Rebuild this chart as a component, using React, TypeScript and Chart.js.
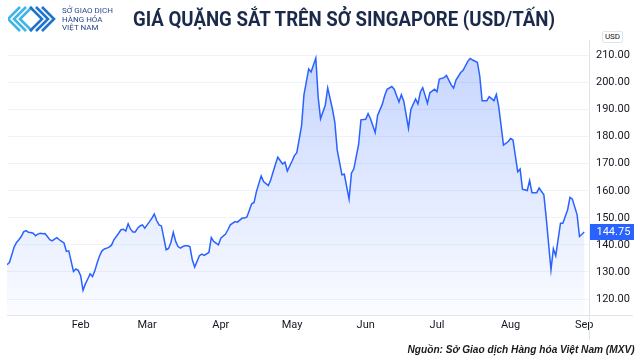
import React, { useEffect, useLayoutEffect, useRef } from "react";
import { Chart, registerables } from "chart.js";

Chart.register(...registerables);

// Day number since Jan 1 (calendar days)
const days = [
  0, 1, 2, 3, 4, 5, 6, 7, 8, 9, 10, 11, 12, 13, 14, 15, 16, 17, 18, 19, 20, 21, 22, 23, 24, 25, 26,
  28, 29, 30, 31, 32, 33, 34, 35, 36, 37, 38, 39, 40, 41, 42, 43, 44, 45, 47, 48, 49, 50, 51, 52,
  53, 54, 55, 56, 57, 58, 59, 60, 61, 62, 63, 64, 65, 67, 68, 69, 70, 71, 72, 73, 74, 75, 76, 77,
  78, 79, 81, 82, 83, 85, 86, 87, 89, 90, 92, 93, 94, 96, 97, 99, 100, 101, 103, 104, 105, 107,
  108, 110, 111, 113, 114, 116, 117, 118, 120, 121, 122, 124, 125, 127, 128, 130, 131, 132, 134,
  135, 137, 138, 139, 141, 142, 144, 145, 146, 148, 149, 151, 152, 153, 155, 156, 158, 159, 160,
  162, 163, 165, 166, 167, 169, 170, 172, 173, 174, 175, 177, 178, 180, 181, 182, 184, 185, 187,
  188, 189, 191, 192, 194, 195, 196, 198, 199, 200, 202, 203, 205, 206, 207, 209, 211, 212, 213,
  215, 216, 217, 219, 220, 221, 223, 224, 226, 227, 229, 230, 231, 233, 234, 236, 237, 238, 240,
  241, 243,
];

const prices = [
  132.7, 133.5, 136.3, 139.2, 140.9, 141.9, 143.1, 144.8, 145.3, 144.7, 144.6, 144.3, 143.4, 144.0,
  144.3, 144.1, 144.2, 143.1, 141.9, 141.5, 142.1, 142.7, 141.9, 141.3, 140.7, 137.6, 137.8,
  130.2, 131.1, 130.6, 128.6, 123.2, 125.6, 127.4, 129.3, 128.3, 130.5, 133.5, 136.0, 137.8, 138.5,
  138.8, 139.2, 139.9, 141.9, 144.3, 145.6, 145.8, 145.1, 147.8, 145.8,
  144.8, 144.8, 146.2, 147.0, 147.4, 146.2, 147.4, 148.6, 149.9, 151.4, 149.0, 147.4, 147.0, 138.2,
  138.7, 140.9, 144.6, 141.3, 139.4, 138.8, 139.4, 139.7, 139.7, 139.4,
  134.5, 131.8, 136.0, 136.6, 136.1, 137.2, 142.7, 141.3, 140.0, 142.5, 144.0, 145.6, 147.4, 148.6,
  148.4, 149.9, 149.9, 150.3, 155.2, 155.7, 159.7, 165.5,
  163.4, 161.9, 164.0, 169.8, 172.4, 169.9, 170.6, 167.3, 171.0, 173.0, 174.1, 184.0, 195.4, 205.0,
  203.9, 209.0, 194.5, 186.6, 191.7,
  198.0, 190.2, 185.3, 175.1, 165.9, 166.1, 156.9, 166.5, 168.1, 177.0, 186.2, 186.4, 188.5, 186.6,
  181.5, 187.8, 192.0, 195.2, 197.5,
  198.5, 197.5, 192.8, 195.5, 193.2, 183.1, 190.0, 193.9, 192.1, 196.4, 198.1, 192.3, 196.2, 197.5,
  196.6, 201.3, 201.8, 202.6, 199.1,
  197.9, 200.9, 203.7, 204.5, 207.9, 208.9, 208.3, 207.5, 202.5, 193.3, 193.3, 194.8, 193.3, 195.6,
  191.1, 176.9, 178.2, 179.3, 178.8,
  167.0, 168.0, 160.6, 160.1, 163.8, 159.3, 159.3, 161.0, 158.5, 149.9, 130.8, 138.6, 136.0, 148.0,
  148.0, 153.0, 157.6, 156.9, 151.1,
  143.1, 144.75,
];

const monthTickDays = [31, 59, 90, 120, 151, 181, 212, 243];
const monthTickLabels = ["Feb", "Mar", "Apr", "May", "Jun", "Jul", "Aug", "Sep"];
const priceTicks = [120, 130, 140, 150, 160, 170, 180, 190, 200, 210];
const lastPrice = 144.75;
const currencyLabel = "USD";
const titleText = "GIÁ QUẶNG SẮT TRÊN SỞ SINGAPORE (USD/TẤN)";
const sourceText = "Nguồn: Sở Giao dịch Hàng hóa Việt Nam (MXV)";
const logoLines = ["SỞ GIAO DỊCH", "HÀNG HÓA", "VIỆT NAM"];

const TICK_FONT = { family: "Roboto, 'Liberation Sans', sans-serif", size: 11 };
const TEXT_COLOR = "#131722";

function fitWidth(el: HTMLElement | null, target: number, origin: string) {
  if (!el) return;
  el.style.transform = "none";
  const w = el.getBoundingClientRect().width;
  if (w > 0) {
    el.style.transformOrigin = origin;
    el.style.transform = `scaleX(${target / w})`;
  }
}

export default function App() {
  const canvasRef = useRef<HTMLCanvasElement | null>(null);
  const titleRef = useRef<HTMLSpanElement | null>(null);
  const sourceRef = useRef<HTMLSpanElement | null>(null);

  useLayoutEffect(() => {
    const run = () => {
      fitWidth(titleRef.current, 422, "left center");
      fitWidth(sourceRef.current, 227, "right center");
    };
    run();
    if ((document as any).fonts && (document as any).fonts.ready) {
      (document as any).fonts.ready.then(run);
    }
  }, []);

  useEffect(() => {
    if (!canvasRef.current) return;

    const overlay = {
      id: "overlay",
      afterDraw(chart: any) {
        const { ctx, chartArea, scales } = chart;
        ctx.save();
        ctx.strokeStyle = "#e0e3eb";
        ctx.lineWidth = 1;
        ctx.beginPath();
        const rx = Math.round(chartArea.right) + 0.5;
        ctx.moveTo(rx, chartArea.top);
        ctx.lineTo(rx, 340);
        const by = Math.round(chartArea.bottom) + 0.5;
        ctx.moveTo(chartArea.left, by);
        ctx.lineTo(633, by);
        ctx.stroke();

        const y = scales.y.getPixelForValue(lastPrice);
        ctx.fillStyle = "#2962ff";
        ctx.fillRect(rx + 0.5, Math.round(y) - 8, 44, 16);
        ctx.fillStyle = "#ffffff";
        ctx.font = `11px ${TICK_FONT.family}`;
        ctx.textBaseline = "middle";
        ctx.textAlign = "left";
        ctx.fillText(lastPrice.toFixed(2), rx + 7, Math.round(y) + 0.5);
        ctx.restore();
      },
    };

    const chart = new Chart(canvasRef.current, {
      type: "line",
      data: {
        datasets: [
          {
            data: days.map((d, i) => ({ x: d, y: prices[i] })),
            borderColor: "#2962ff",
            borderWidth: 1.5,
            pointRadius: 0,
            tension: 0,
            fill: "start",
            backgroundColor: (ctx: any) => {
              const area = ctx.chart.chartArea;
              if (!area) return "rgba(41,98,255,0.15)";
              const g = ctx.chart.ctx.createLinearGradient(0, area.top, 0, area.bottom);
              g.addColorStop(0, "rgba(41,98,255,0.28)");
              g.addColorStop(1, "rgba(41,98,255,0.02)");
              return g;
            },
          },
        ],
      },
      options: {
        animation: false,
        responsive: false,
        events: [],
        layout: { padding: { left: 7, top: 40, right: 0, bottom: 0 } },
        plugins: { legend: { display: false }, tooltip: { enabled: false } },
        scales: {
          x: {
            type: "linear",
            position: "bottom",
            min: 0,
            max: 245,
            grid: { display: false, drawTicks: false },
            border: { display: false },
            afterBuildTicks: (s: any) => {
              s.ticks = monthTickDays.map((v) => ({ value: v }));
            },
            afterFit: (s: any) => {
              s.height = 45;
            },
            ticks: {
              autoSkip: false,
              maxRotation: 0,
              padding: 4,
              color: TEXT_COLOR,
              font: TICK_FONT,
              callback: (v: any) => {
                const i = monthTickDays.indexOf(Number(v));
                return i >= 0 ? monthTickLabels[i] : "";
              },
            },
          },
          y: {
            type: "linear",
            position: "right",
            min: 114.1,
            max: 215.7,
            grid: { color: "#f0f3fa", drawTicks: false },
            border: { display: false },
            afterBuildTicks: (s: any) => {
              s.ticks = priceTicks.map((v) => ({ value: v }));
            },
            afterFit: (s: any) => {
              s.width = 51;
            },
            ticks: {
              padding: 7,
              color: TEXT_COLOR,
              font: TICK_FONT,
              callback: (v: any) => Number(v).toFixed(2),
            },
          },
        },
      },
      plugins: [overlay],
    } as any);

    return () => chart.destroy();
  }, []);

  return (
    <div
      style={{
        position: "fixed",
        left: 0,
        top: 0,
        width: 640,
        height: 360,
        background: "#ffffff",
        overflow: "hidden",
      }}
    >
      <canvas
        ref={canvasRef}
        width={640}
        height={360}
        style={{ position: "absolute", left: 0, top: 0, width: 640, height: 360 }}
      />
      <svg
        width={48}
        height={28}
        viewBox="0 0 48 28"
        style={{ position: "absolute", left: 8, top: 5 }}
      >
        {[0, 6, 12].map((a) => (
          <polyline
            key={"l" + a}
            points={`${a + 12},2 ${a},14 ${a + 12},26`}
            fill="none"
            stroke="#3fb4e6"
            strokeWidth={2.6}
          />
        ))}
        {[22, 28, 34].map((b) => (
          <polyline
            key={"r" + b}
            points={`${b},2 ${b + 12},14 ${b},26`}
            fill="none"
            stroke="#1f73c8"
            strokeWidth={2.6}
          />
        ))}
      </svg>
      <div
        style={{
          position: "absolute",
          left: 62,
          top: 7,
          fontFamily: "Roboto, 'Liberation Sans', sans-serif",
          fontSize: 8,
          lineHeight: "8.5px",
          color: "#2b4a8a",
          whiteSpace: "nowrap",
        }}
      >
        {logoLines.map((l) => (
          <div key={l}>{l}</div>
        ))}
      </div>
      <span
        ref={titleRef}
        style={{
          position: "absolute",
          left: 133,
          top: 9,
          fontFamily: "Roboto, 'Liberation Sans', sans-serif",
          fontWeight: 700,
          fontSize: 20,
          lineHeight: "20px",
          color: "#1b2a4a",
          whiteSpace: "nowrap",
        }}
      >
        {titleText}
      </span>
      <div
        style={{
          position: "absolute",
          left: 602,
          top: 31,
          width: 21,
          height: 12,
          boxSizing: "border-box",
          border: "1px solid #e0e3eb",
          borderRadius: 2,
          fontFamily: "Roboto, 'Liberation Sans', sans-serif",
          fontSize: 8,
          lineHeight: "10px",
          textAlign: "center",
          color: TEXT_COLOR,
          background: "#ffffff",
        }}
      >
        {currencyLabel}
      </div>
      <span
        ref={sourceRef}
        style={{
          position: "absolute",
          right: 5,
          top: 343,
          fontFamily: "'Liberation Sans', Arial, sans-serif",
          fontWeight: 700,
          fontStyle: "italic",
          fontSize: 11,
          lineHeight: "13px",
          color: "#1a1a1a",
          whiteSpace: "nowrap",
        }}
      >
        {sourceText}
      </span>
    </div>
  );
}
